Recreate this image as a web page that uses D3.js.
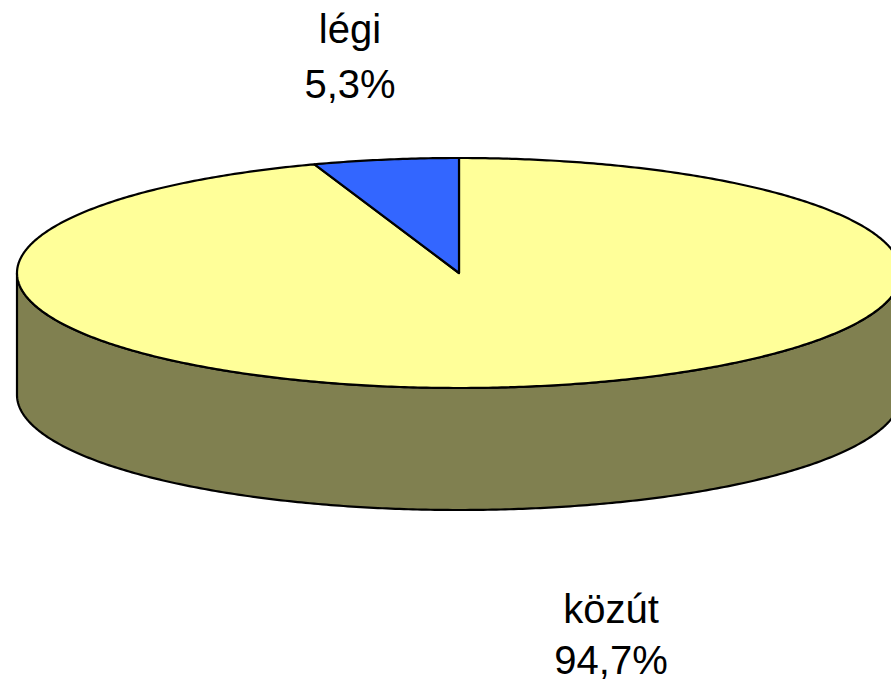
<!DOCTYPE html>
<html>
<head>
<meta charset="utf-8">
<script src="https://cdn.jsdelivr.net/npm/d3@7"></script>
<style>
    body { margin: 0; background: #fff; }
    svg { display: block; }
    text { font-family: "Liberation Sans", Arial, sans-serif; font-size: 40px; fill: #000; }
</style>
</head>
<body>
<div id="chart"></div>
<script>
    // data
    var categories = ["közút", "légi"];
    var values = [94.7, 5.3];
    var labels = ["94,7%", "5,3%"];
    var colors = ["#FFFF99", "#3366FF"];
    var sideColors = ["#808050", "#1F3D99"];

    var width = 891, height = 684;
    var cx = 459, cy = 273, rx = 442, ry = 115, depth = 122;

    var svg = d3.select("#chart").append("svg")
        .attr("width", width)
        .attr("height", height);

    var pie = d3.pie().sort(null).value(function(d) { return d; });
    var arcs = pie(values);

    // map pie angle (0 = top, clockwise) onto the flattened ellipse
    function px(a) { return cx + rx * Math.sin(a); }
    function py(a, dz) { return cy - ry * Math.cos(a) + (dz || 0); }

    function topPath(d) {
        var n = Math.max(2, Math.ceil((d.endAngle - d.startAngle) / 0.01));
        var pts = [[cx, cy]];
        for (var i = 0; i <= n; i++) {
            var a = d.startAngle + (d.endAngle - d.startAngle) * i / n;
            pts.push([px(a), py(a)]);
        }
        return d3.line()(pts) + "Z";
    }

    function sidePath(d) {
        // only the front half of the rim is visible
        var s = Math.max(d.startAngle, Math.PI / 2),
            e = Math.min(d.endAngle, Math.PI * 1.5);
        if (e <= s) return null;
        var n = Math.ceil((e - s) / 0.01), pts = [], i, a;
        for (i = 0; i <= n; i++) { a = s + (e - s) * i / n; pts.push([px(a), py(a)]); }
        for (i = n; i >= 0; i--) { a = s + (e - s) * i / n; pts.push([px(a), py(a, depth)]); }
        return d3.line()(pts) + "Z";
    }

    // side walls
    svg.selectAll(".side")
        .data(arcs.filter(function(d) { return sidePath(d); }))
        .enter().append("path")
        .attr("class", "side")
        .attr("d", sidePath)
        .attr("fill", function(d) { return sideColors[d.index]; })
        .attr("stroke", "#000")
        .attr("stroke-width", 2.2)
        .attr("stroke-linejoin", "round");

    // top faces
    svg.selectAll(".slice")
        .data(arcs)
        .enter().append("path")
        .attr("class", "slice")
        .attr("d", topPath)
        .attr("fill", function(d) { return colors[d.index]; })
        .attr("stroke", "#000")
        .attr("stroke-width", 2.2)
        .attr("stroke-linejoin", "round");

    // labels
    var labelPos = [[611, 623], [350, 43]];
    var g = svg.selectAll(".label")
        .data(arcs)
        .enter().append("text")
        .attr("class", "label")
        .attr("text-anchor", "middle")
        .attr("x", function(d) { return labelPos[d.index][0]; })
        .attr("y", function(d) { return labelPos[d.index][1]; });
    g.append("tspan")
        .attr("x", function(d) { return labelPos[d.index][0]; })
        .text(function(d) { return categories[d.index]; });
    g.append("tspan")
        .attr("x", function(d) { return labelPos[d.index][0]; })
        .attr("dy", function(d) { return d.index === 0 ? 51 : 55; })
        .text(function(d) { return labels[d.index]; });
</script>
</body>
</html>
